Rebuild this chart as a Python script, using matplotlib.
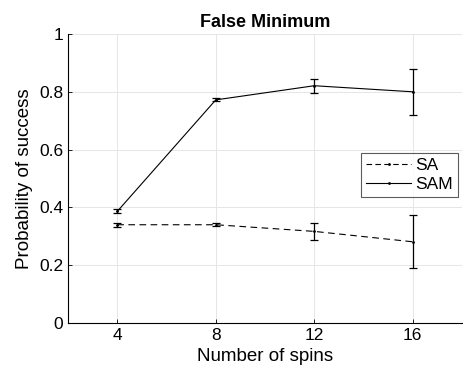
import matplotlib
matplotlib.use("Agg")
import matplotlib.pyplot as plt
from matplotlib.lines import Line2D

plt.rcParams['font.family'] = ['Liberation Sans', 'DejaVu Sans']

spins = [4, 8, 12, 16]
sa_mean = [0.340, 0.340, 0.317, 0.281]
sa_err = [0.007, 0.006, 0.029, 0.092]
sam_mean = [0.386, 0.772, 0.821, 0.800]
sam_err = [0.007, 0.005, 0.024, 0.080]
xticks = [4, 8, 12, 16]
yticks = [0, 0.2, 0.4, 0.6, 0.8, 1]
ytick_labels = ['0', '0.2', '0.4', '0.6', '0.8', '1']
series_names = ['SA', 'SAM']

fig = plt.figure(figsize=(4.63, 3.83), dpi=100)
ax = fig.add_axes([68/463, 1-323/383, (462-68)/463, (323-34)/383])

dash = (0, (6, 4))
ax.errorbar(spins, sa_mean, yerr=sa_err, color='black', linestyle=dash,
            linewidth=0.8, marker='.', markersize=2, capsize=3, elinewidth=0.9, capthick=0.9)
ax.errorbar(spins, sam_mean, yerr=sam_err, color='black', linestyle='-',
            linewidth=0.8, marker='.', markersize=2, capsize=3, elinewidth=0.9, capthick=0.9)

ax.set_xlim(2, 18)
ax.set_ylim(0, 1)
ax.set_xticks(xticks)
ax.set_yticks(yticks)
ax.set_yticklabels(ytick_labels)
ax.tick_params(labelsize=12.5, direction='in', length=3, width=0.6)
ax.grid(True, color='#e6e6e6', linewidth=0.7)
ax.set_axisbelow(True)
for s in ['top', 'right']:
    ax.spines[s].set_visible(False)
for s in ['left', 'bottom']:
    ax.spines[s].set_linewidth(0.8)

ax.set_title('False Minimum', fontsize=13, fontweight='bold', pad=5)
ax.set_xlabel('Number of spins', fontsize=13.5)
ax.set_ylabel('Probability of success', fontsize=13.5)

handles = [Line2D([], [], color='black', linestyle=(0, (5, 3)), linewidth=0.8, marker='.', markersize=2),
           Line2D([], [], color='black', linestyle='-', linewidth=0.8, marker='.', markersize=2)]
leg = ax.legend(handles, series_names, loc='upper left',
                bbox_to_anchor=((361-68)/394, (323-153)/289),
                fontsize=12.5, frameon=True, fancybox=False, edgecolor='#333333',
                handlelength=2.6, handletextpad=0.2, borderpad=0.3, labelspacing=0.2,
                borderaxespad=0)
leg.get_frame().set_linewidth(0.8)

fig.savefig('out.png', dpi=100)
